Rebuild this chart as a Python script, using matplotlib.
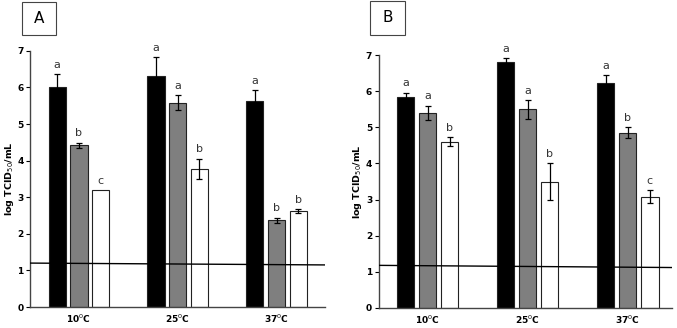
import numpy as np
import matplotlib
matplotlib.use("Agg")
import matplotlib.pyplot as plt
from matplotlib.patches import Rectangle

# ---------- Data ----------
temps = ["10$^{0}$C", "25$^{0}$C", "37$^{0}$C"]

a_black = [6.00, 6.32, 5.62]
a_black_err = [0.37, 0.50, 0.30]
a_gray = [4.42, 5.58, 2.37]
a_gray_err = [0.07, 0.20, 0.07]
a_white = [3.20, 3.78, 2.62]
a_white_err = [0.0, 0.27, 0.06]
a_letters = [["a", "a", "a"], ["b", "a", "b"], ["c", "b", "b"]]
a_limit = [1.20, 1.15]

b_black = [5.83, 6.82, 6.22]
b_black_err = [0.13, 0.10, 0.22]
b_gray = [5.40, 5.50, 4.85]
b_gray_err = [0.20, 0.26, 0.15]
b_white = [4.60, 3.50, 3.08]
b_white_err = [0.12, 0.50, 0.18]
b_letters = [["a", "a", "a"], ["a", "a", "b"], ["b", "b", "c"]]
b_limit = [1.18, 1.12]

colors = ["black", "#7f7f7f", "white"]
offsets = [-0.22, 0.0, 0.22]
width = 0.175

fig = plt.figure(figsize=(6.77, 3.28), dpi=100)


def panel(rect, xlim, series, errs, letters, limit, tag, tag_box):
    ax = fig.add_axes(rect)
    x = np.arange(len(temps))
    for vals, err, col, off, lets in zip(series, errs, colors, offsets, letters):
        ax.bar(x + off, vals, width, color=col, edgecolor="#222222", linewidth=0.8, zorder=2)
        e = np.array(err)
        mask = e > 0
        ax.errorbar((x + off)[mask], np.array(vals)[mask], yerr=e[mask], fmt="none",
                    ecolor="black", elinewidth=0.9, capsize=2, capthick=0.9, zorder=3)
        for xi, v, ei, l in zip(x + off, vals, err, lets):
            ax.text(xi, v + ei + 0.12, l, ha="center", va="bottom", fontsize=8,
                    color="#333333", clip_on=False, zorder=4)
    ax.plot(xlim, limit, color="black", linewidth=1.0, zorder=5)
    ax.set_xlim(*xlim)
    ax.set_ylim(0, 7)
    ax.set_yticks(range(0, 8))
    ax.set_xticks(x)
    ax.set_xticklabels(temps, fontsize=6.5, fontweight="bold")
    ax.tick_params(axis="x", length=0, pad=4)
    ax.tick_params(axis="y", length=3, width=0.8, labelsize=6.5, pad=2)
    for lab in ax.get_yticklabels():
        lab.set_fontweight("bold")
    ax.set_ylabel("log TCID$_{50}$/mL", fontsize=6.8, fontweight="bold", labelpad=1)
    for s in ["top", "right"]:
        ax.spines[s].set_visible(False)
    for s in ["left", "bottom"]:
        ax.spines[s].set_color("#444444")
        ax.spines[s].set_linewidth(1.0)
    bx, by, bw, bh = tag_box
    fig.patches.append(Rectangle((bx, by), bw, bh, transform=fig.transFigure,
                                 facecolor="white", edgecolor="#444444", linewidth=0.8))
    fig.text(bx + bw / 2, by + bh / 2, tag, ha="center", va="center", fontsize=11)
    return ax


panel([0.045, 0.064, 0.435, 0.781], (-0.49, 2.49),
      [a_black, a_gray, a_white], [a_black_err, a_gray_err, a_white_err],
      a_letters, a_limit, "A", (22 / 677, 1 - 35 / 328, 34 / 677, 33 / 328))

panel([0.560, 0.061, 0.433, 0.771], (-0.485, 2.445),
      [b_black, b_gray, b_white], [b_black_err, b_gray_err, b_white_err],
      b_letters, b_limit, "B", (370 / 677, 1 - 35 / 328, 35 / 677, 34 / 328))

fig.savefig("out.png", dpi=100)
